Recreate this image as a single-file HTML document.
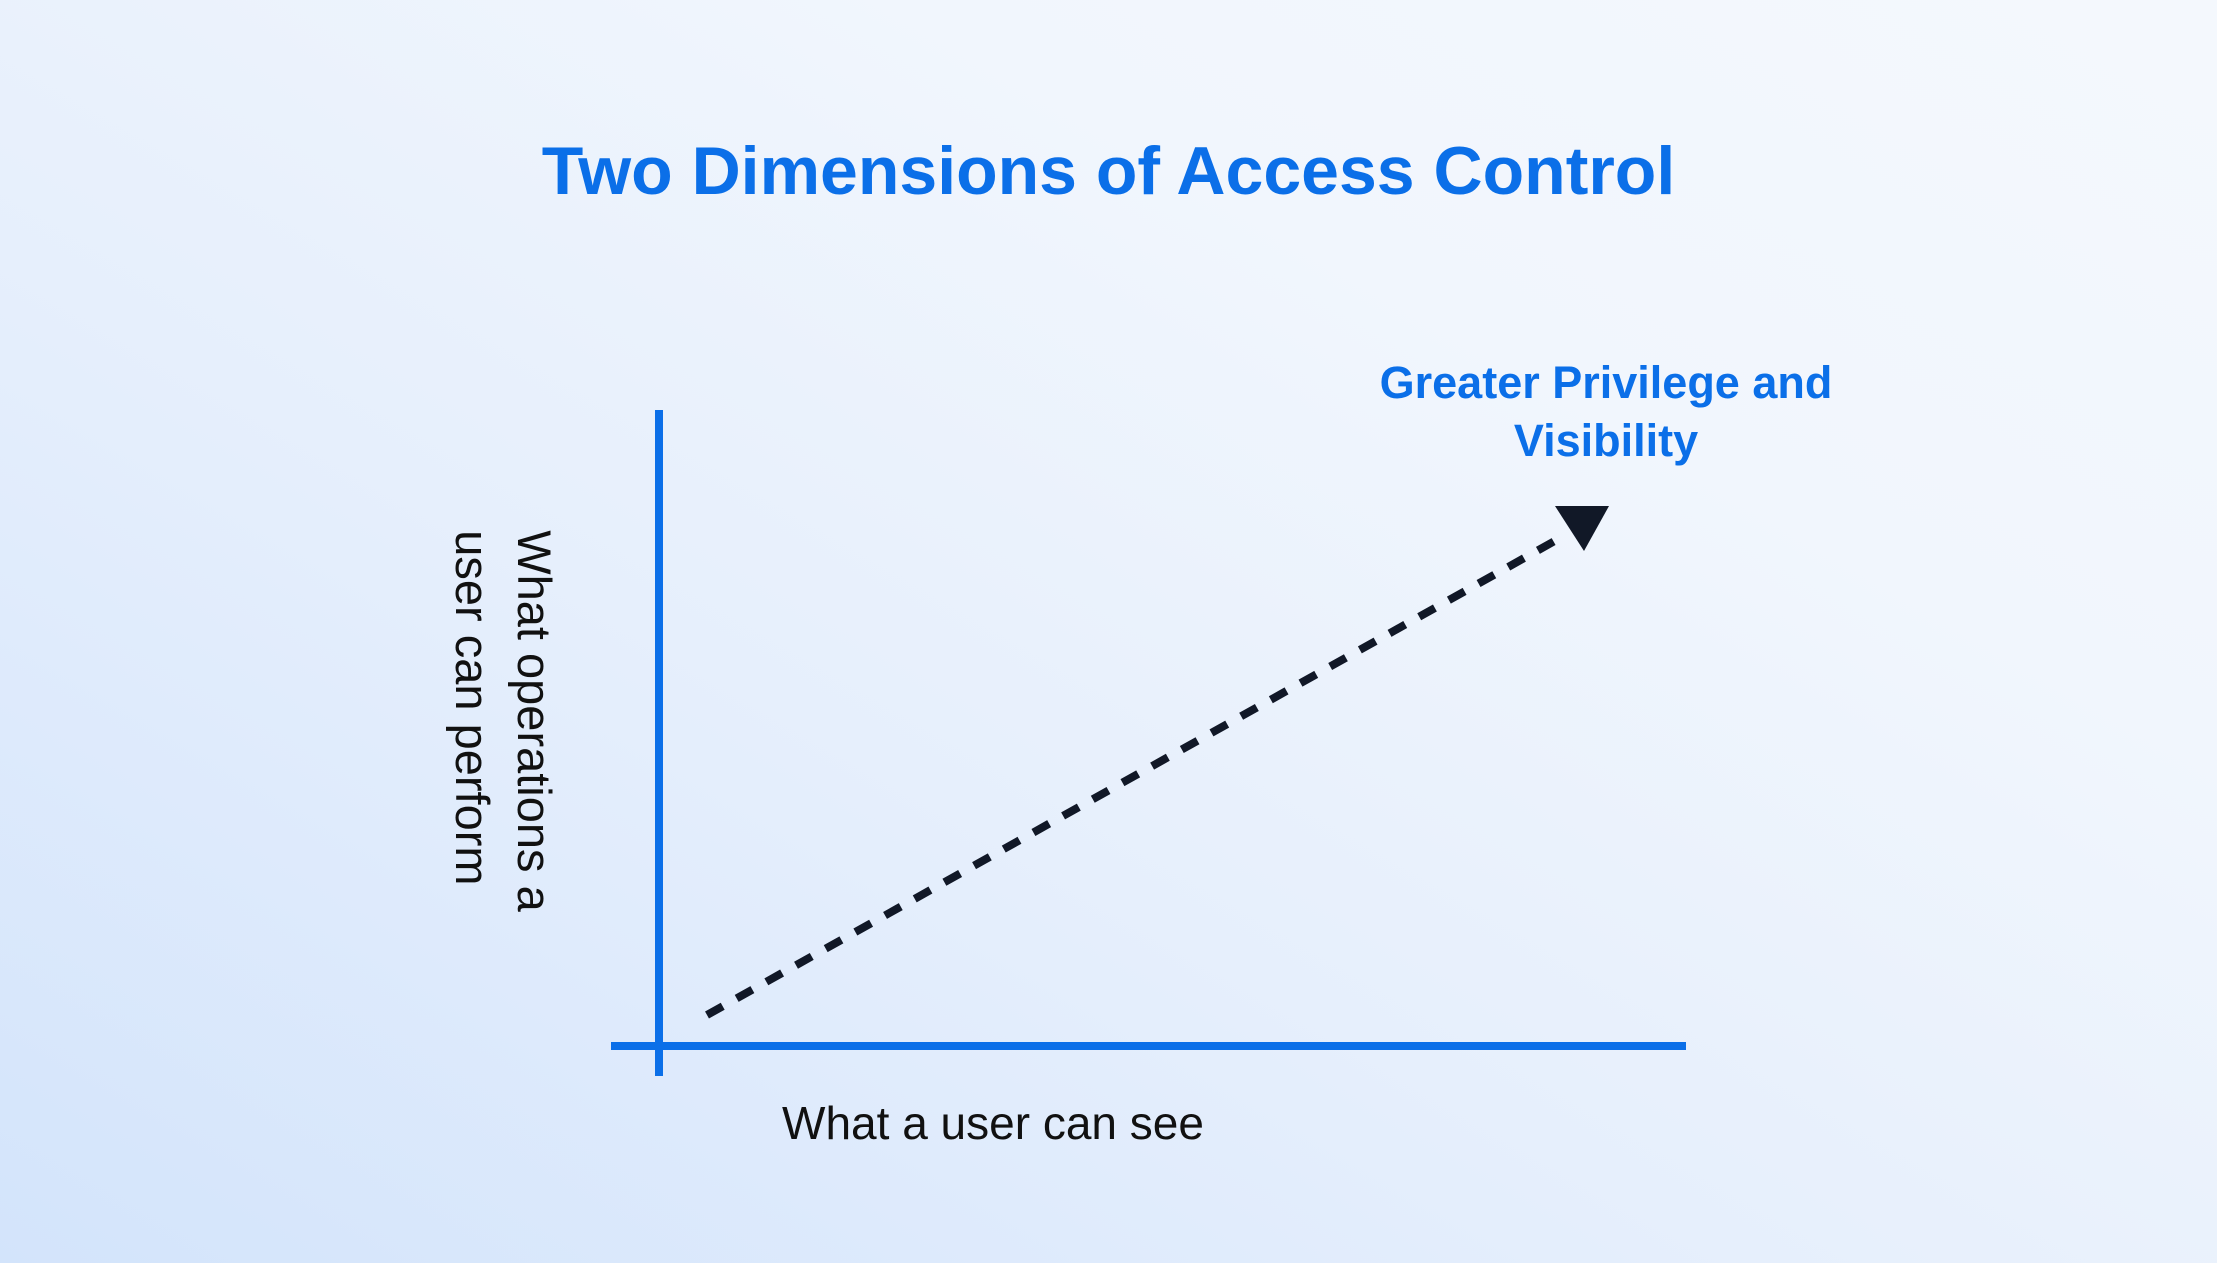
<!DOCTYPE html>
<html><head><meta charset="utf-8"><style>
html,body{margin:0;padding:0}
body{width:2217px;height:1263px;overflow:hidden;position:relative;font-family:"Liberation Sans",sans-serif;
background:linear-gradient(30deg,#d3e4fb 0%,#e6effc 40%,#f1f6fd 70%,#f4f8fd 100%);}
.t{position:absolute;white-space:nowrap;}
</style></head><body>
<div class="t" style="left:0;width:2217px;top:132px;text-align:center;font-size:68px;font-weight:bold;color:#0b6fe8;">Two Dimensions of Access Control</div>
<div class="t" style="left:1306px;width:600px;top:354px;text-align:center;font-size:45px;line-height:58px;font-weight:bold;color:#0b6fe8;">Greater Privilege and<br>Visibility</div>
<div class="t" style="left:693px;width:600px;top:1096px;text-align:center;font-size:46px;color:#111;">What a user can see</div>
<div class="t" style="left:503px;top:721px;transform:translate(-50%,-50%) rotate(90deg);font-size:47px;line-height:62px;color:#111;text-align:left;">What operations a<br>user can perform</div>
<svg width="2217" height="1263" style="position:absolute;left:0;top:0">
<line x1="659" y1="410" x2="659" y2="1076" stroke="#0b6fe8" stroke-width="8"/>
<line x1="611" y1="1046" x2="1686" y2="1046" stroke="#0b6fe8" stroke-width="8"/>
<line x1="707" y1="1015" x2="1560" y2="538" stroke="#111827" stroke-width="8" stroke-dasharray="18,16"/>
<polygon points="1555,506 1609,506 1584,551" fill="#111827"/>
</svg>
</body></html>
